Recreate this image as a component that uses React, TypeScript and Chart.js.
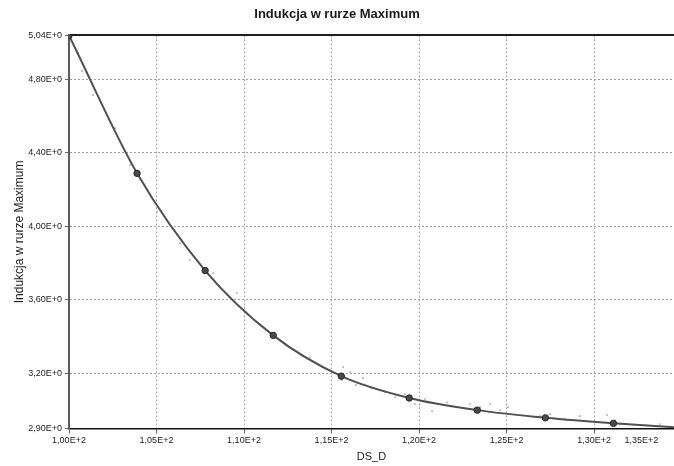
import { useEffect, useRef } from "react";
import { Chart, registerables } from "chart.js";

Chart.register(...registerables);

const TITLE = "Indukcja w rurze Maximum";
const X_TITLE = "DS_D";
const Y_TITLE = "Indukcja w rurze Maximum";

// main series (marked points)
const X_VALUES = [100, 103.89, 107.78, 111.67, 115.56, 119.44, 123.33, 127.22, 131.11, 135];
const Y_VALUES = [5.04, 4.289, 3.76, 3.407, 3.185, 3.066, 3.0, 2.958, 2.928, 2.905];

// faint scattered raw samples around the curve
const NOISE_X = [100.51, 100.74, 101.37, 102.63, 103.49, 105.03, 106.34, 106.91, 108.23, 109.6, 112.06, 113.77, 115.66, 115.6, 116.06, 116.4, 116.8, 117.3, 118.06, 118.63, 119.2, 119.77, 120.34, 120.74, 121.6, 122.91, 123.49, 124.06, 124.63, 125.09, 126.91, 127.49, 128.3, 129.2, 130.74, 131.2, 131.49, 133.77];
const NOISE_Y = [4.944, 4.846, 4.715, 4.535, 4.334, 4.078, 3.909, 3.817, 3.746, 3.637, 3.381, 3.288, 3.234, 3.163, 3.207, 3.136, 3.174, 3.118, 3.098, 3.071, 3.087, 3.033, 3.06, 2.995, 3.041, 3.033, 3.016, 3.033, 3.0, 3.016, 2.967, 2.978, 2.952, 2.967, 2.973, 2.945, 2.923, 2.923];

const X_TICKS = [100, 105, 110, 115, 120, 125, 130];
const X_TICK_LABELS = ["1,00E+2", "1,05E+2", "1,10E+2", "1,15E+2", "1,20E+2", "1,25E+2", "1,30E+2"];
const X_EDGE_TICK = 132.7;
const X_EDGE_LABEL = "1,35E+2";
const Y_TICKS = [2.9, 3.2, 3.6, 4.0, 4.4, 4.8, 5.04];
const Y_TICK_LABELS = ["2,90E+0", "3,20E+0", "3,60E+0", "4,00E+0", "4,40E+0", "4,80E+0", "5,04E+0"];

const X_MIN = 100;
const X_MAX = 134.57;
const Y_MIN = 2.9;
const Y_MAX = 5.04;

const FONT = "'Liberation Sans', Arial, sans-serif";
const GRID = "#a0a0a0";

export default function App() {
  const ref = useRef<HTMLCanvasElement | null>(null);

  useEffect(() => {
    if (!ref.current) return;
    const mainData = X_VALUES.map((x, i) => ({ x, y: Y_VALUES[i] }));
    const noiseData = NOISE_X.map((x, i) => ({ x, y: NOISE_Y[i] }));
    const zeroPad = (s: any) => {
      s.paddingLeft = 0;
      s.paddingRight = 0;
      s.paddingTop = 0;
      s.paddingBottom = 0;
    };
    const chart = new Chart(ref.current, {
      type: "line",
      data: {
        datasets: [
          {
            data: mainData,
            borderColor: "#505050",
            borderWidth: 2,
            cubicInterpolationMode: "monotone",
            pointRadius: 3.2,
            pointBackgroundColor: "#4a4a4a",
            pointBorderColor: "#262626",
            pointBorderWidth: 1,
            fill: false,
          },
          {
            data: noiseData,
            showLine: false,
            pointRadius: 1.1,
            pointBorderWidth: 0,
            pointBackgroundColor: "rgba(165,165,165,0.75)",
            borderColor: "rgba(165,165,165,0.75)",
          },
        ],
      },
      options: {
        responsive: false,
        animation: false,
        devicePixelRatio: 1,
        layout: { padding: 0, autoPadding: false },
        plugins: {
          legend: { display: false },
          tooltip: { enabled: false },
          title: {
            display: true,
            text: TITLE,
            color: "#1a1a1a",
            font: { family: FONT, size: 13, weight: "bold" },
            padding: { top: 7, bottom: 12.8 },
          },
        },
        scales: {
          x: {
            type: "linear",
            position: "bottom",
            min: X_MIN,
            max: X_MAX,
            afterBuildTicks: (s: any) => {
              s.ticks = [...X_TICKS.map((v) => ({ value: v })), { value: X_EDGE_TICK }];
            },
            afterFit: (s: any) => {
              s.height = 37.5;
              zeroPad(s);
            },
            ticks: {
              autoSkip: false,
              maxRotation: 0,
              padding: 2,
              color: "#222",
              font: { family: FONT, size: 9 },
              callback: (v: any) => {
                const i = X_TICKS.indexOf(Number(v));
                return i >= 0 ? X_TICK_LABELS[i] : X_EDGE_LABEL;
              },
            },
            grid: {
              color: (c: any) => (c.tick && c.tick.value === X_EDGE_TICK ? "rgba(0,0,0,0)" : GRID),
              tickColor: (c: any) => (c.tick && c.tick.value === X_EDGE_TICK ? "rgba(0,0,0,0)" : "#666"),
              lineWidth: 1,
              tickLength: 5,
            },
            border: { display: true, color: "#111", width: 1.5, dash: [2, 2] },
            title: {
              display: true,
              text: X_TITLE,
              color: "#1a1a1a",
              font: { family: FONT, size: 11 },
              padding: { top: 0, bottom: 2 },
            },
          },
          xTop: {
            type: "linear",
            position: "top",
            min: X_MIN,
            max: X_MAX,
            ticks: { display: false },
            grid: { drawOnChartArea: false, drawTicks: false },
            border: { display: true, color: "#1e1e1e", width: 2 },
            afterFit: (s: any) => {
              s.height = 0;
              zeroPad(s);
            },
          },
          y: {
            type: "linear",
            min: Y_MIN,
            max: Y_MAX,
            afterBuildTicks: (s: any) => {
              s.ticks = Y_TICKS.map((v) => ({ value: v }));
            },
            afterFit: (s: any) => {
              s.width = 69;
              zeroPad(s);
            },
            ticks: {
              autoSkip: false,
              padding: 3,
              color: "#222",
              font: { family: FONT, size: 9 },
              callback: (v: any) => {
                const i = Y_TICKS.indexOf(Number(v));
                return i >= 0 ? Y_TICK_LABELS[i] : "";
              },
            },
            grid: {
              color: GRID,
              tickColor: "#666",
              lineWidth: 1,
              tickLength: 4,
            },
            border: { display: true, color: "#5a5a5a", width: 2, dash: [2, 2] },
            title: {
              display: true,
              text: Y_TITLE,
              color: "#1a1a1a",
              font: { family: FONT, size: 12 },
              padding: { top: 12, bottom: 0 },
            },
          },
        },
      } as any,
    });
    return () => chart.destroy();
  }, []);

  return (
    <div style={{ position: "absolute", left: 0, top: 0, width: 674, height: 466, overflow: "hidden", background: "#fff" }}>
      <canvas ref={ref} width={674} height={466} style={{ width: 674, height: 466, display: "block" }} />
    </div>
  );
}
